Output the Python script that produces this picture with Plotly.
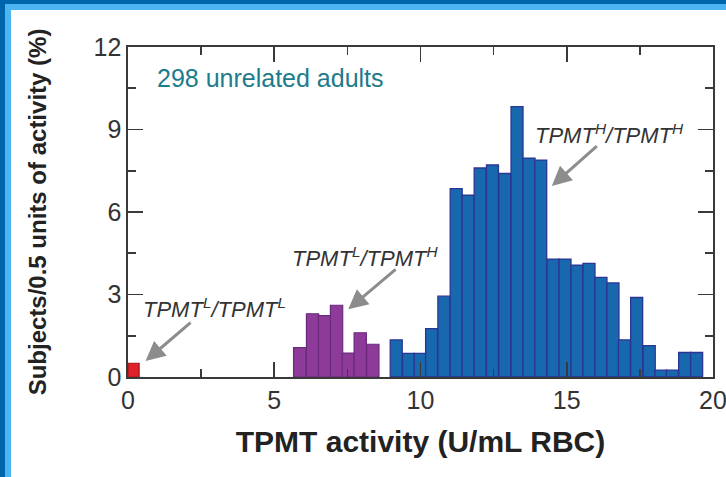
import plotly.graph_objects as go

# ---- data ----
red_x = [0.19]
red_y = [0.50]

purple_x = [5.87, 6.31, 6.72, 7.13, 7.53, 7.94, 8.37]
purple_y = [1.07, 2.30, 2.23, 2.61, 0.87, 1.61, 1.19]

blue_x = [9.17, 9.59, 9.99, 10.38, 10.80, 11.22, 11.63, 12.04, 12.46, 12.88,
          13.30, 13.71, 14.11, 14.53, 14.94, 15.35, 15.76, 16.17, 16.58, 16.97,
          17.39, 17.82, 18.22, 18.61, 19.03, 19.44]
blue_y = [1.35, 0.86, 0.86, 1.76, 2.94, 6.85, 6.61, 7.60, 7.71, 7.40,
          9.83, 7.96, 7.89, 4.29, 4.29, 4.07, 4.13, 3.62, 3.42, 1.35,
          2.89, 1.14, 0.25, 0.25, 0.89, 0.89]

x_ticks = [0, 5, 10, 15, 20]
y_ticks = [0, 3, 6, 9, 12]

labels = ["TPMT<sup>L</sup>/TPMT<sup>L</sup>",
          "TPMT<sup>L</sup>/TPMT<sup>H</sup>",
          "TPMT<sup>H</sup>/TPMT<sup>H</sup>"]
label_pos = [(0.45, 2.50), (5.54, 4.38), (13.86, 8.85)]
arrow_head = [(0.60, 0.58), (7.53, 2.46), (14.49, 6.95)]
arrow_tail = [(2.19, 2.02), (9.20, 3.96), (16.08, 8.44)]

FONT = "Liberation Sans, Arial, Helvetica, sans-serif"
W, H = 726, 477
ML, MR, MT, MB = 128, 13, 47, 100
PW, PH = W - ML - MR, H - MT - MB

fig = go.Figure()
fig.add_trace(go.Bar(x=red_x, y=red_y, width=0.38,
                     marker=dict(color="#E0202A", line=dict(color="#A3161C", width=1.2))))
fig.add_trace(go.Bar(x=purple_x, y=purple_y, width=0.42,
                     marker=dict(color="#8E3A99", line=dict(color="#6A2A7C", width=1.2))))
fig.add_trace(go.Bar(x=blue_x, y=blue_y, width=0.41,
                     marker=dict(color="#1768AD", line=dict(color="#2A3594", width=1.3))))

axis_common = dict(showline=True, linecolor="#3a3a3a", linewidth=1.6, mirror="ticks",
                   ticks="inside", tickcolor="#3a3a3a", tickwidth=1.6, ticklen=15,
                   showgrid=False, zeroline=False, ticklabeloverflow="allow",
                   automargin=False,
                   tickfont=dict(family=FONT, size=25, color="#333333"))

fig.update_xaxes(range=[0, 20], tickvals=x_ticks, ticktext=[str(v) for v in x_ticks],
                 minor=dict(dtick=2.5, ticks="inside", ticklen=8, tickcolor="#3a3a3a",
                            tickwidth=1.6, showgrid=False),
                 title=dict(text="<b>TPMT activity (U/mL RBC)</b>",
                            font=dict(family=FONT, size=30, color="#222222"), standoff=18),
                 **axis_common)
fig.update_yaxes(range=[0, 12], tickvals=y_ticks, ticktext=[str(v) for v in y_ticks],
                 minor=dict(dtick=1.5, ticks="inside", ticklen=8, tickcolor="#3a3a3a",
                            tickwidth=1.6, showgrid=False),
                 title=dict(text="<b>Subjects/0.5 units of activity (%)</b>",
                            font=dict(family=FONT, size=24, color="#222222"), standoff=40),
                 **axis_common)

annotations = [dict(x=0.92, y=10.89, xref="x", yref="y", text="298 unrelated adults",
                    showarrow=False, xanchor="left", yanchor="middle",
                    font=dict(family=FONT, size=25, color="#1C7B8C"))]
for t, (lx, ly) in zip(labels, label_pos):
    annotations.append(dict(x=lx, y=ly, xref="x", yref="y", text="<i>" + t + "</i>",
                            showarrow=False, xanchor="left", yanchor="middle",
                            font=dict(family=FONT, size=22, color="#333333")))
for (hx, hy), (tx, ty) in zip(arrow_head, arrow_tail):
    annotations.append(dict(x=hx, y=hy, xref="x", yref="y", ax=tx, ay=ty,
                            axref="x", ayref="y", text="", showarrow=True,
                            arrowhead=2, arrowsize=1.3, arrowwidth=3, arrowcolor="#8C8C8C"))


def px_x(p):
    return (p - ML) / PW


def px_y(p):
    return (H - MB - p) / PH


shapes = [
    dict(type="rect", xref="paper", yref="paper", x0=px_x(5), x1=px_x(W), y0=px_y(10), y1=px_y(4),
         fillcolor="#4DB5F2", line=dict(width=0), layer="above"),
    dict(type="rect", xref="paper", yref="paper", x0=px_x(5), x1=px_x(11), y0=px_y(H), y1=px_y(4),
         fillcolor="#4DB5F2", line=dict(width=0), layer="above"),
    dict(type="rect", xref="paper", yref="paper", x0=px_x(0), x1=px_x(W), y0=px_y(4), y1=px_y(0),
         fillcolor="#0066AC", line=dict(width=0), layer="above"),
    dict(type="rect", xref="paper", yref="paper", x0=px_x(0), x1=px_x(5), y0=px_y(H), y1=px_y(0),
         fillcolor="#0066AC", line=dict(width=0), layer="above"),
]

fig.update_layout(width=W, height=H, margin=dict(l=ML, r=MR, t=MT, b=MB),
                  paper_bgcolor="white", plot_bgcolor="white", showlegend=False,
                  barmode="overlay", bargap=0, annotations=annotations, shapes=shapes,
                  font=dict(family=FONT), hovermode=False, autosize=False)

fig.write_html("out.html",
               config={"displayModeBar": False, "staticPlot": True, "responsive": False},
               post_script=("document.documentElement.style.overflow='hidden';"
                            "document.body.style.overflow='hidden';"
                            "document.body.style.margin='0';"))
